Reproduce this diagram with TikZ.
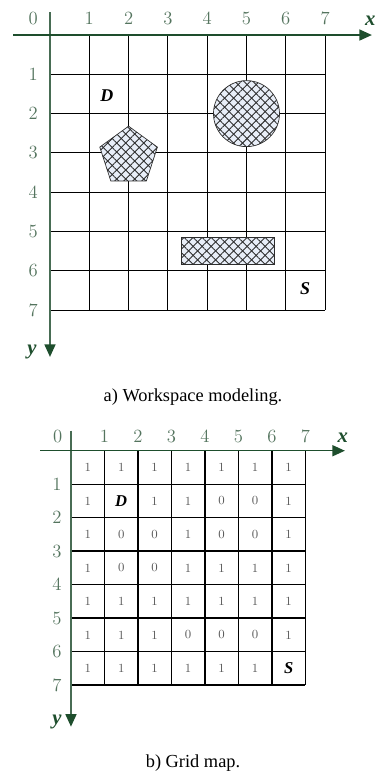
\documentclass[tikz,border=0pt]{standalone}
\usepackage{fontspec}
\usepackage{tikz}
\usetikzlibrary{arrows.meta,patterns.meta,shapes.geometric}
\newfontfamily\capfont{Liberation Serif}
\newcommand{\mkA}[1]{{\capfont\fontsize{13}{13}\selectfont\bfseries\itshape #1}}
\newcommand{\mkB}[1]{{\capfont\fontsize{12}{12}\selectfont\bfseries\itshape\color{black}#1}}

\begin{document}
\begin{tikzpicture}
  \definecolor{axGreen}  {RGB}{ 30, 78, 45}
  \definecolor{yaxGreen} {RGB}{ 72,108, 84}
  \definecolor{numGreen} {RGB}{ 84,116, 94}
  \definecolor{obstFill} {RGB}{232,238,248}
  \definecolor{hatchGray}{RGB}{ 45, 45, 45}
  \tikzset{
    gridline/.style={line width=0.8pt,black},
    axisx/.style={line width=0.9pt,axGreen,-{Triangle[length=9pt,width=8pt]}},
    axisy/.style={line width=0.9pt,yaxGreen,-{Triangle[length=9pt,width=8pt,color=axGreen]}},
    axlabel/.style={font=\capfont\fontsize{15}{15}\selectfont\bfseries\itshape,text=axGreen,inner sep=0pt},
    tick/.style={font=\fontsize{13.5}{13.5}\selectfont,text=numGreen,inner sep=0pt},
    cellnum/.style={font=\fontsize{9}{9}\selectfont,text=black!65,inner sep=0pt},
    caption/.style={font=\capfont\fontsize{13.3}{16}\selectfont,inner sep=0pt},
    obstacle/.style={
      preaction={fill=obstFill},
      preaction={pattern={Lines[angle=45,distance=4.6pt,line width=0.65pt]},pattern color=hatchGray},
      preaction={pattern={Lines[angle=-45,distance=4.6pt,line width=0.65pt]},pattern color=hatchGray},
      draw=hatchGray,line width=0.5pt}
  }
  \useasboundingbox (-1.272,0.891) rectangle (8.346,-18.753);

  % a) workspace
  \foreach \k in {0,...,7}{
    \draw[gridline] (\k,0) -- (\k,-7);
    \draw[gridline] (0,-\k) -- (7,-\k);
  }
  \draw[obstacle] (5,-2) circle (0.84);
  \node[obstacle,regular polygon,regular polygon sides=5,
        minimum size=1.54cm,inner sep=0pt] (pent) at (2,-3.09) {};
  \draw[obstacle] (3.35,-5.15) rectangle (5.71,-5.83);
  \node (goalA)  at (1.45,-1.53) {\mkA{D}};
  \node (startA) at (6.49,-6.46) {\mkA{S}};
  \coordinate (axA0) at (-0.94,0);
  \coordinate (axA1) at (8.19,0);
  \coordinate (ayA0) at (0,0.585);
  \coordinate (ayA1) at (0,-8.19);
  \draw[axisy] (ayA0) -- (ayA1);
  \draw[axisx] (axA0) -- (axA1);
  \node[axlabel] (xA) at (8.15,0.36) {x};
  \node[axlabel] (yA) at (-0.46,-8.07) {y};
  \node[tick] (tA0) at (-0.43,0.43) {0};
  \foreach \k in {1,...,7}{
    \node[tick] (txA\k) at (\k,0.43) {\k};
    \node[tick] (tyA\k) at (-0.43,-\k) {\k};
  }
  \node[caption] (capA) at (3.64,-9.21) {a) Workspace modeling.};

  % b) grid map
  \begin{scope}[shift={(0.534,-10.578)},scale=0.852]
    \foreach \k in {0,...,7}{
      \draw[gridline,line width=1pt] (\k,0) -- (\k,-7);
      \draw[gridline,line width=1pt] (0,-\k) -- (7,-\k);
    }
    \foreach \row [count=\j] in {
        {1,1,1,1,1,1,1},
        {1,\mkB{D},1,1,0,0,1},
        {1,0,0,1,0,0,1},
        {1,0,0,1,1,1,1},
        {1,1,1,1,1,1,1},
        {1,1,1,0,0,0,1},
        {1,1,1,1,1,1,\mkB{S}}}{
      \foreach \v [count=\i] in \row {
        \node[cellnum] (c\i\j) at (\i-0.5,-\j+0.5) {\v};
      }
    }
    \coordinate (axB0) at (-0.925,0);
    \coordinate (axB1) at (8.18,0);
    \coordinate (ayB0) at (0,0.597);
    \coordinate (ayB1) at (0,-8.24);
    \draw[axisy] (ayB0) -- (ayB1);
    \draw[axisx] (axB0) -- (axB1);
    \node[axlabel] (xB) at (8.12,0.38) {x};
    \node[axlabel] (yB) at (-0.42,-8.09) {y};
    \node[tick] (tB0) at (-0.40,0.42) {0};
    \foreach \k in {1,...,7}{
      \node[tick] (txB\k) at (\k,0.42) {\k};
      \node[tick] (tyB\k) at (-0.42,-\k) {\k};
    }
  \end{scope}
  \node[caption] (capB) at (3.64,-18.52) {b) Grid map.};
\end{tikzpicture}
\end{document}
